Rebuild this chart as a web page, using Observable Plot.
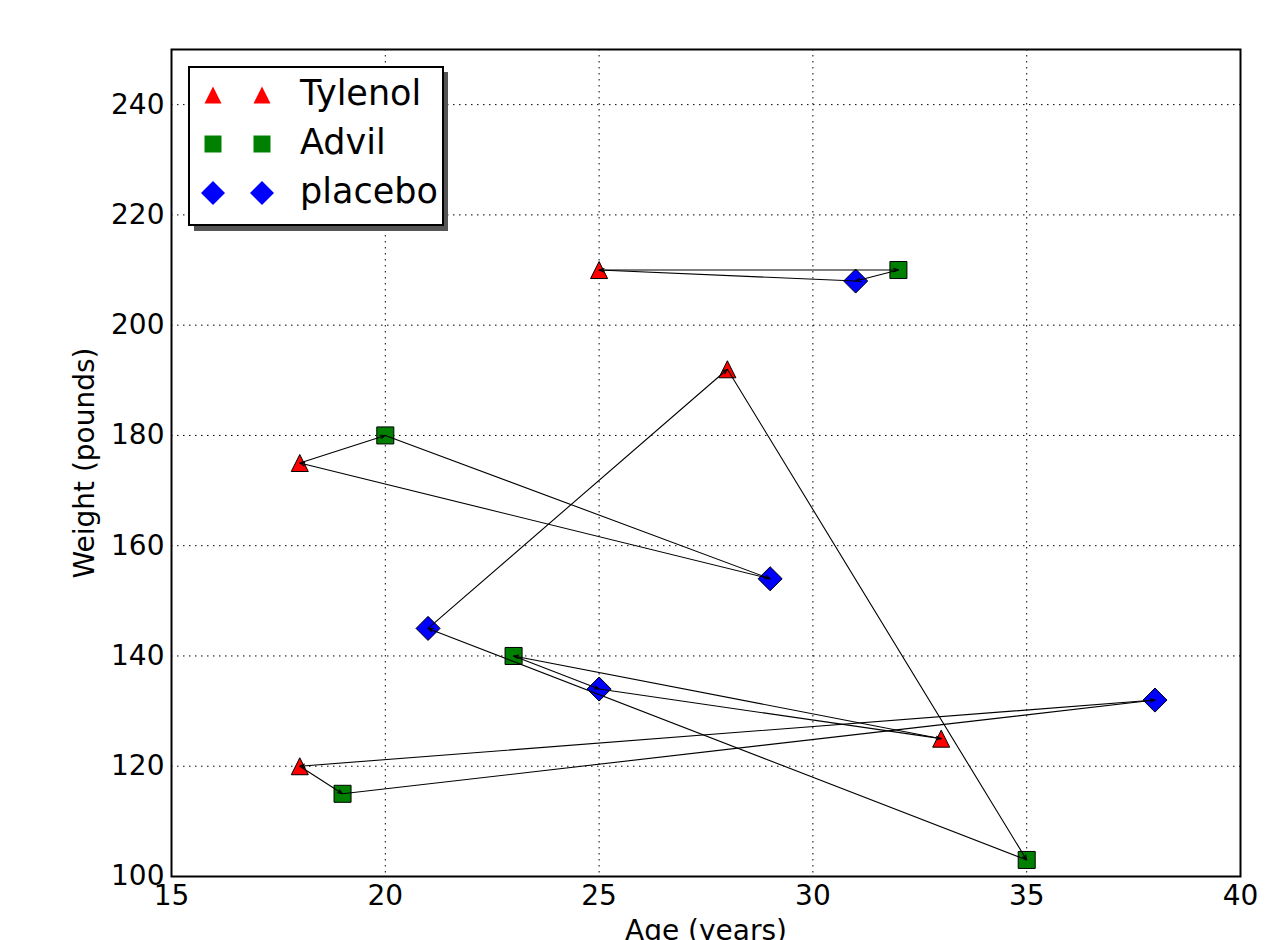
<!DOCTYPE html>
<html><head><meta charset="utf-8">
<script src="https://cdn.jsdelivr.net/npm/d3@7"></script>
<script src="https://cdn.jsdelivr.net/npm/@observablehq/plot@0.6"></script>
<style>
body{margin:0;background:#fff;}
#wrap{position:relative;width:1280px;height:940px;overflow:hidden;font-family:"DejaVu Sans",sans-serif;}
#legend{position:absolute;left:0;top:0;}
</style></head><body><div id="wrap"></div>
<script>
const drugs = ["Tylenol", "Advil", "placebo"];
const drugColors = ["#ff0000", "#008000", "#0000ff"];
// each group of three: Tylenol, Advil, placebo (arrows T -> A -> P -> T)
const ages    = [25, 32, 31,  18, 20, 29,  28, 35, 21,  33, 23, 25,  18, 19, 38];
const weights = [210, 210, 208, 175, 180, 154, 192, 103, 145, 125, 140, 134, 120, 115, 132];
const xTicks = [15, 20, 25, 30, 35, 40];
const yTicks = [100, 120, 140, 160, 180, 200, 220, 240];
const xLabel = "Age (years)";
const yLabel = "Weight (pounds)";

const points = ages.map((a, i) => ({age: a, weight: weights[i], drug: drugs[i % 3], group: Math.floor(i / 3)}));
const edges = points.map((p, i) => {
  const n = points[p.group * 3 + ((i % 3) + 1) % 3];
  return {x1: p.age, y1: p.weight, x2: n.age, y2: n.weight};
});

const tri = {draw(ctx, size) { const h = Math.sqrt(size) / 2; ctx.moveTo(0, -h); ctx.lineTo(h, h); ctx.lineTo(-h, h); ctx.closePath(); }};
const sq = {draw(ctx, size) { const h = Math.sqrt(size) / 2; ctx.rect(-h, -h, 2 * h, 2 * h); }};
const dia = {draw(ctx, size) { const h = Math.sqrt(size) / 2 * Math.SQRT2; ctx.moveTo(0, -h); ctx.lineTo(h, 0); ctx.lineTo(0, h); ctx.lineTo(-h, 0); ctx.closePath(); }};
const tickShape = {draw(ctx, l) { ctx.moveTo(0, 0); ctx.lineTo(0, -l); }};

const dotted = {stroke: "#000", strokeOpacity: 1, strokeWidth: 1, strokeDasharray: "1.5,4.5"};

const chart = Plot.plot({
  width: 1280, height: 940,
  marginLeft: 171, marginRight: 40, marginTop: 49, marginBottom: 64,
  style: {fontFamily: "DejaVu Sans", fontSize: "28px", background: "#fff", color: "#000"},
  x: {domain: [15, 40]},
  y: {domain: [100, 250]},
  color: {domain: drugs, range: drugColors},
  symbol: {domain: drugs, range: [tri, sq, dia]},
  marks: [
    Plot.gridX(xTicks.slice(1, -1), dotted),
    Plot.gridY(yTicks.slice(1), dotted),
    Plot.dot(points, {x: "age", y: "weight", symbol: "drug", fill: "drug", stroke: "#000", strokeWidth: 1, r: 9.6}),
    Plot.arrow(edges, {x1: "x1", y1: "y1", x2: "x2", y2: "y2", stroke: "#000", strokeWidth: 1.1, headLength: 7, headAngle: 40}),
    Plot.vectorY(xTicks, {x: d => d, frameAnchor: "bottom", length: 8, rotate: 0, anchor: "start", shape: tickShape, stroke: "#000"}),
    Plot.vectorY(xTicks, {x: d => d, frameAnchor: "top", length: 8, rotate: 180, anchor: "start", shape: tickShape, stroke: "#000"}),
    Plot.vectorX(yTicks, {y: d => d, frameAnchor: "left", length: 8, rotate: 90, anchor: "start", shape: tickShape, stroke: "#000"}),
    Plot.vectorX(yTicks, {y: d => d, frameAnchor: "right", length: 8, rotate: -90, anchor: "start", shape: tickShape, stroke: "#000"}),
    Plot.axisX(xTicks, {tickSize: 0, tickPadding: 9, label: null, fontSize: 28}),
    Plot.axisY(yTicks, {tickSize: 0, tickPadding: 7, label: null, fontSize: 28}),
    Plot.frame({stroke: "#000", strokeWidth: 2}),
    Plot.text([xLabel], {text: d => d, frameAnchor: "bottom", dy: 44, lineAnchor: "top", fontSize: 28}),
    Plot.text([yLabel], {text: d => d, frameAnchor: "left", dx: -86, rotate: -90, textAnchor: "middle", fontSize: 28})
  ]
});
document.getElementById("wrap").appendChild(chart);

// legend
const ns = "http://www.w3.org/2000/svg";
const leg = document.createElementNS(ns, "svg");
leg.setAttribute("id", "legend");
leg.setAttribute("width", 1280);
leg.setAttribute("height", 940);
const shapes = [tri, sq, dia];
let html = `<rect x="194" y="72" width="254" height="159" fill="#555"/>` +
  `<rect x="189" y="67" width="254" height="158" fill="#fff" stroke="#000" stroke-width="2"/>`;
drugs.forEach((d, i) => {
  const cy = 95 + i * 49;
  [213, 262].forEach(cx => {
    const p = d3.path();
    shapes[i].draw(p, 17 * 17);
    html += `<path transform="translate(${cx},${cy})" d="${p.toString()}" fill="${drugColors[i]}"/>`;
  });
  html += `<text x="300" y="${cy + 10}" font-family="DejaVu Sans" font-size="35" fill="#000">${d}</text>`;
});
leg.innerHTML = html;
document.getElementById("wrap").appendChild(leg);
</script></body></html>
